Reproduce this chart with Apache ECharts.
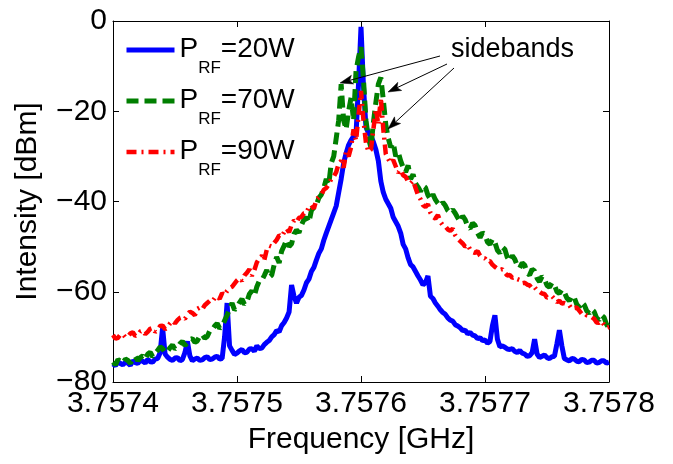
<!DOCTYPE html>
<html><head><meta charset="utf-8">
<script src="https://cdn.jsdelivr.net/npm/echarts@6/dist/echarts.min.js"></script>
<style>html,body{margin:0;padding:0;background:#fff}#c{width:673px;height:464px}</style>
</head><body><div id="c"></div>
<script>
const FONT = '"Liberation Sans", Arial, Helvetica, sans-serif';

// sweep grid (GHz)
const freqStart = 3.7574;
const freqStep = 0.000002;
const xMin = 3.7574, xMax = 3.7578, xInterval = 0.0001;
const yMin = -80, yMax = 0, yInterval = 20;

const powers = ['20W', '70W', '90W'];

// Intensity [dBm], P_RF = 20 W
const p20 = [
 -76.0,-76.4,-75.5,-75.9,-76.2,-75.6,-75.8,-76.3,-75.3,-75.7,
 -75.9,-75.2,-75.4,-75.8,-75.0,-75.5,-75.6,-74.9,-74.8,-73.5,
 -68.0,-73.8,-74.5,-75.0,-75.2,-74.7,-74.6,-75.3,-75.0,-73.5,
 -71.0,-74.2,-75.3,-74.9,-74.7,-75.2,-75.1,-74.6,-74.4,-75.0,
 -74.9,-74.5,-74.3,-74.9,-74.8,-70.0,-62.5,-72.0,-73.0,-73.9,
 -73.6,-73.1,-72.8,-73.5,-73.4,-72.7,-72.6,-73.2,-72.0,-72.6,
 -72.5,-71.7,-71.2,-70.8,-70.0,-69.5,-68.6,-68.9,-67.5,-66.8,
 -65.8,-64.5,-58.5,-61.0,-62.5,-61.2,-60.8,-59.6,-58.0,-57.2,
 -55.5,-54.6,-53.0,-51.5,-50.5,-48.6,-47.0,-45.5,-44.0,-42.5,
 -41.0,-38.0,-35.0,-31.5,-29.3,-27.5,-26.4,-25.6,-25.0,-14.0,
 -1.3,
 -14.5,-23.5,-24.8,-25.5,-26.8,-28.5,-31.0,-35.5,-38.0,
 -39.5,-40.5,-41.5,-43.5,-44.5,-45.5,-47.0,-49.5,-50.5,-52.5,
 -54.0,-54.5,-55.5,-56.5,-57.4,-58.5,-58.0,-56.5,-61.0,-61.5,
 -62.5,-63.2,-64.0,-64.6,-65.0,-65.8,-66.3,-66.5,-67.3,-67.6,
 -68.0,-68.6,-68.5,-69.3,-69.0,-69.6,-69.8,-70.4,-70.2,-70.8,
 -70.7,-71.4,-71.0,-67.5,-65.2,-70.5,-72.2,-72.0,-72.3,-72.7,
 -72.8,-72.6,-73.2,-73.5,-73.0,-73.6,-73.8,-74.3,-74.2,-73.5,
 -70.5,-73.8,-74.6,-74.3,-74.0,-74.6,-74.8,-74.4,-74.3,-71.5,
 -68.5,-72.0,-74.8,-75.1,-75.3,-74.8,-74.9,-75.4,-75.5,-75.0,
 -75.1,-75.7,-75.6,-75.2,-75.2,-75.8,-75.7,-75.3,-75.3,-75.8,-75.6];

// P_RF = 70 W
const p70 = [
 -75.6,-76.2,-75.0,-75.4,-75.8,-74.9,-75.2,-75.9,-74.8,-74.4,
 -75.3,-74.6,-74.2,-74.9,-73.8,-73.4,-74.4,-73.6,-73.0,-72.2,
 -72.6,-73.5,-73.2,-72.4,-71.8,-72.7,-72.3,-71.5,-71.0,-71.9,
 -71.4,-70.6,-70.4,-71.2,-70.9,-69.8,-69.5,-70.3,-69.9,-68.7,
 -68.5,-67.6,-67.0,-68.1,-67.6,-66.4,-65.2,-63.8,-62.5,-64.0,
 -63.5,-62.4,-61.6,-62.8,-62.2,-60.5,-59.8,-60.9,-58.9,-57.6,
 -57.5,-56.4,-55.2,-56.8,-56.3,-54.0,-52.3,-53.6,-51.0,-49.8,
 -48.5,-50.0,-49.4,-47.2,-46.3,-46.9,-45.2,-44.0,-43.5,-44.6,
 -42.0,-41.3,-40.8,-39.2,-38.5,-37.0,-35.0,-36.2,-31.5,-30.0,
 -26.0,-22.0,-14.0,-22.0,-24.0,-20.0,-17.0,-22.0,-11.0,-8.0,
 -5.8,
 -13.0,-22.0,-26.0,-28.0,-22.5,-18.0,-14.0,-12.5,-17.5,
 -23.0,-26.0,-28.0,-27.0,-30.0,-29.0,-31.0,-32.5,-33.5,-32.0,
 -35.0,-34.0,-36.0,-36.8,-37.8,-36.5,-36.9,-38.6,-39.5,-38.4,
 -39.6,-40.4,-41.0,-40.2,-40.9,-42.0,-42.5,-41.8,-42.6,-43.6,
 -44.5,-43.2,-44.0,-45.5,-46.0,-44.8,-45.3,-47.0,-48.0,-46.9,
 -47.4,-49.0,-49.5,-48.3,-49.1,-50.8,-51.4,-50.1,-50.6,-52.4,
 -53.2,-52.0,-52.8,-54.2,-54.7,-53.6,-54.1,-55.8,-56.3,-55.0,
 -55.4,-57.0,-57.8,-56.6,-57.2,-58.6,-59.0,-58.0,-58.5,-60.0,
 -60.4,-59.5,-60.1,-61.4,-62.0,-60.9,-61.3,-62.8,-63.4,-62.3,
 -62.9,-64.2,-64.8,-63.9,-64.4,-65.8,-66.3,-65.2,-65.7,-67.2,-68.0];

// P_RF = 90 W
const p90 = [
 -69.6,-70.4,-70.2,-69.5,-69.4,-70.1,-69.9,-69.2,-69.0,-69.8,
 -69.6,-68.8,-68.6,-69.4,-68.9,-68.2,-68.0,-68.9,-68.5,-67.6,
 -67.5,-68.3,-67.9,-67.0,-66.4,-67.0,-66.3,-65.8,-65.6,-66.0,
 -65.2,-64.4,-64.7,-65.2,-63.8,-63.5,-63.9,-63.0,-62.5,-62.0,
 -62.2,-61.4,-61.0,-61.6,-60.3,-60.8,-59.8,-59.2,-58.9,-58.2,
 -57.5,-57.0,-57.6,-56.4,-55.8,-55.0,-56.5,-55.2,-53.5,-52.6,
 -52.0,-53.0,-50.7,-49.8,-50.0,-49.2,-48.5,-47.5,-47.8,-46.8,
 -46.0,-46.8,-45.2,-44.2,-44.6,-43.6,-43.4,-42.6,-42.5,-41.2,
 -40.8,-41.6,-39.6,-39.0,-38.5,-37.4,-37.0,-36.2,-35.0,-34.5,
 -33.5,-31.6,-31.0,-32.5,-29.0,-30.0,-28.0,-24.0,-26.5,-21.0,
 -15.5,
 -22.0,-27.0,-29.0,-28.5,-24.0,-19.5,-23.0,-17.0,-24.0,
 -29.5,-30.6,-31.5,-30.8,-32.2,-33.6,-33.0,-34.2,-34.5,-35.6,
 -36.0,-35.4,-37.0,-38.6,-39.5,-40.8,-41.2,-40.6,-42.5,-43.4,
 -43.8,-43.0,-44.5,-45.3,-45.5,-46.2,-46.5,-46.0,-47.5,-48.3,
 -48.8,-49.3,-50.0,-49.6,-50.6,-51.2,-51.4,-51.0,-52.0,-52.5,
 -52.6,-53.3,-53.2,-54.0,-54.5,-54.9,-55.2,-55.0,-55.8,-56.4,
 -56.3,-56.9,-56.7,-57.2,-57.4,-58.1,-58.0,-58.4,-58.6,-59.3,
 -59.0,-59.7,-60.0,-60.4,-60.5,-61.3,-61.2,-61.0,-61.6,-62.3,
 -62.0,-62.6,-62.5,-62.7,-63.0,-63.8,-63.6,-63.5,-64.2,-64.9,
 -64.7,-65.2,-65.3,-65.6,-66.0,-66.8,-66.9,-66.5,-67.3,-68.0,-67.8];

const names = powers.map(p => 'P_RF=' + p);
const toPairs = vals => vals.map((v, i) => [freqStart + i * freqStep, v]);

const chart = echarts.init(document.getElementById('c'), null, {renderer: 'canvas'});

// annotation arrows (pixel positions of the "sidebands" callouts)
const arrows = [
  {from: [440, 56], to: [340, 83]},
  {from: [447, 64], to: [388, 92]},
  {from: [454, 68], to: [388, 129]}
];
const arrowGraphics = [];
arrows.forEach(a => {
  const dx = a.to[0] - a.from[0], dy = a.to[1] - a.from[1];
  const L = Math.hypot(dx, dy), ux = dx / L, uy = dy / L, nx = -uy, ny = ux;
  const hl = 13, hw = 4.5, notch = 3;
  const T = a.to;
  const back = [T[0] - ux * (hl - notch), T[1] - uy * (hl - notch)];
  arrowGraphics.push({type: 'line', z: 100, shape: {x1: a.from[0], y1: a.from[1], x2: back[0], y2: back[1]},
    style: {stroke: '#000', lineWidth: 1}, silent: true});
  arrowGraphics.push({type: 'polygon', z: 100, shape: {points: [
    T, [T[0] - ux * hl + nx * hw, T[1] - uy * hl + ny * hw], back,
    [T[0] - ux * hl - nx * hw, T[1] - uy * hl - ny * hw]]},
    style: {fill: '#000', stroke: '#000', lineWidth: 0.5}, silent: true});
});

const axisCommon = {
  axisLine: {show: true, onZero: false, lineStyle: {color: '#000', width: 1}},
  axisTick: {show: true, inside: true, length: 6, lineStyle: {color: '#000', width: 1}},
  splitLine: {show: false}
};

const option = {
  animation: false,
  backgroundColor: '#fff',
  grid: {left: 113, right: 64, top: 21, bottom: 82, containLabel: false},
  xAxis: [
    Object.assign({
      type: 'value', min: xMin, max: xMax, interval: xInterval, position: 'bottom',
      axisLabel: {formatter: v => v.toFixed(4), fontSize: 30, color: '#000', fontFamily: FONT, margin: 7},
      name: 'Frequency [GHz]', nameLocation: 'middle', nameGap: 43,
      nameTextStyle: {fontSize: 30, color: '#000', fontFamily: FONT}
    }, axisCommon),
    Object.assign({
      type: 'value', min: xMin, max: xMax, interval: xInterval, position: 'top',
      axisLabel: {show: false}
    }, axisCommon)
  ],
  yAxis: [
    Object.assign({
      type: 'value', min: yMin, max: yMax, interval: yInterval, position: 'left',
      axisLabel: {formatter: v => String(v).replace('-', '\u2212'), fontSize: 30, color: '#000', fontFamily: FONT, margin: 6},
      name: 'Intensity [dBm]', nameLocation: 'middle', nameGap: 70,
      nameTextStyle: {fontSize: 30, color: '#000', fontFamily: FONT}
    }, axisCommon),
    Object.assign({
      type: 'value', min: yMin, max: yMax, interval: yInterval, position: 'right',
      axisLabel: {show: false}
    }, axisCommon)
  ],
  legend: {
    orient: 'vertical', left: 119, top: 30, itemWidth: 48, itemHeight: 14, itemGap: 9,
    selectedMode: false, data: names,
    itemStyle: {opacity: 0, borderWidth: 0},
    lineStyle: {width: 'inherit'},
    formatter: n => '{p|P}{s|RF}{p|=' + n.split('=')[1] + '}',
    textStyle: {
      color: '#000', fontFamily: FONT,
      rich: {
        p: {fontSize: 28, lineHeight: 30, verticalAlign: 'top', fontFamily: FONT, color: '#000'},
        s: {fontSize: 17, lineHeight: 16, padding: [25, 0, 0, 0], verticalAlign: 'top', fontFamily: FONT, color: '#000'}
      }
    }
  },
  series: [
    {name: names[0], type: 'line', data: toPairs(p20), symbol: 'none', showSymbol: false,
     lineStyle: {color: '#0000FF', width: 5, type: 'solid'}, itemStyle: {color: '#0000FF'}},
    {name: names[1], type: 'line', data: toPairs(p70), symbol: 'none', showSymbol: false,
     lineStyle: {color: '#007F00', width: 5, type: [12, 6]}, itemStyle: {color: '#007F00'}},
    {name: names[2], type: 'line', data: toPairs(p90), symbol: 'none', showSymbol: false,
     lineStyle: {color: '#FF0000', width: 4.5, type: [10, 5, 2, 5]}, itemStyle: {color: '#FF0000'}}
  ],
  graphic: [
    {type: 'text', left: 451, top: 36, z: 100, style: {text: 'sidebands', fontSize: 27, fontFamily: FONT, fill: '#000'}, silent: true}
  ].concat(arrowGraphics)
};
chart.setOption(option);
</script>
</body></html>
